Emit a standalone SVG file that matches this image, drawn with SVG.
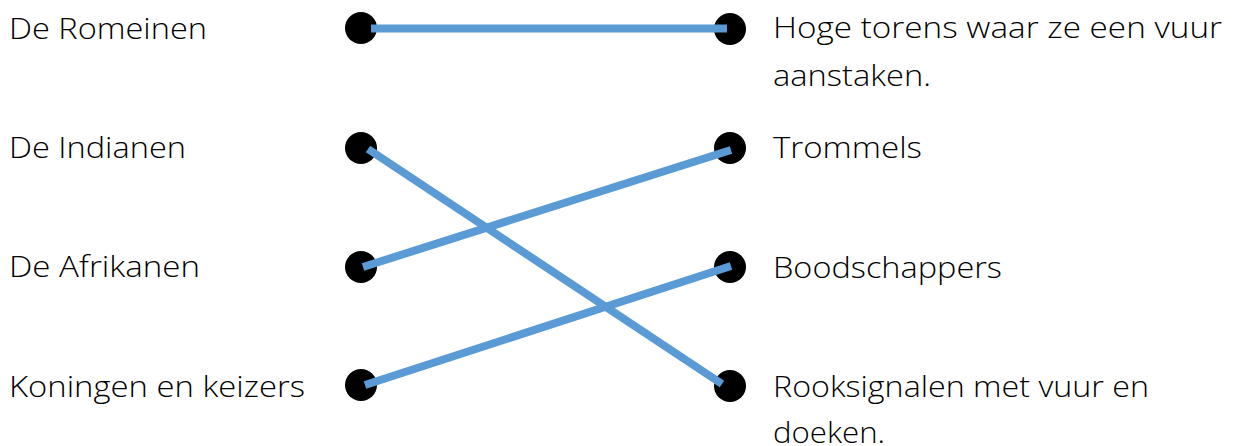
<svg xmlns="http://www.w3.org/2000/svg" width="1234" height="446" viewBox="0 0 1234 446">
<style>
text{font-family:"Open Sans","Liberation Sans",sans-serif;font-weight:300;font-size:30px;fill:#000}
.dot{fill:#000}
.ln{stroke:#5B9BD5;stroke-width:8;fill:none}
</style>
<rect width="1234" height="446" fill="#fff"/>
<g id="left-romeinen"><text x="9" y="39" textLength="198" lengthAdjust="spacingAndGlyphs">De Romeinen</text><circle class="dot" cx="361" cy="28" r="16"/></g>
<g id="left-indianen"><text x="9" y="158" textLength="177" lengthAdjust="spacingAndGlyphs">De Indianen</text><circle class="dot" cx="361" cy="148" r="16"/></g>
<g id="left-afrikanen"><text x="9" y="277" textLength="191" lengthAdjust="spacingAndGlyphs">De Afrikanen</text><circle class="dot" cx="361" cy="267" r="16"/></g>
<g id="left-koningen"><text x="9" y="397" textLength="296" lengthAdjust="spacingAndGlyphs">Koningen en keizers</text><circle class="dot" cx="361" cy="385" r="16"/></g>
<g id="right-torens"><circle class="dot" cx="730" cy="29" r="16"/><text x="773" y="38" textLength="449" lengthAdjust="spacingAndGlyphs">Hoge torens waar ze een vuur</text><text x="773" y="86" textLength="158" lengthAdjust="spacingAndGlyphs">aanstaken.</text></g>
<g id="right-trommels"><circle class="dot" cx="730" cy="148" r="16"/><text x="773" y="158" textLength="149" lengthAdjust="spacingAndGlyphs">Trommels</text></g>
<g id="right-boodschappers"><circle class="dot" cx="730" cy="267" r="16"/><text x="773" y="278" textLength="229" lengthAdjust="spacingAndGlyphs">Boodschappers</text></g>
<g id="right-rooksignalen"><circle class="dot" cx="730" cy="386" r="16"/><text x="773" y="397" textLength="376" lengthAdjust="spacingAndGlyphs">Rooksignalen met vuur en</text><text x="773" y="443" textLength="112" lengthAdjust="spacingAndGlyphs">doeken.</text></g>
<g id="connectors">
<line class="ln" x1="371" y1="28.5" x2="727" y2="28.5"/>
<line class="ln" x1="368" y1="149" x2="722" y2="384"/>
<line class="ln" x1="363" y1="267" x2="731" y2="150"/>
<line class="ln" x1="365" y1="385" x2="731" y2="266"/>
</g>
</svg>
